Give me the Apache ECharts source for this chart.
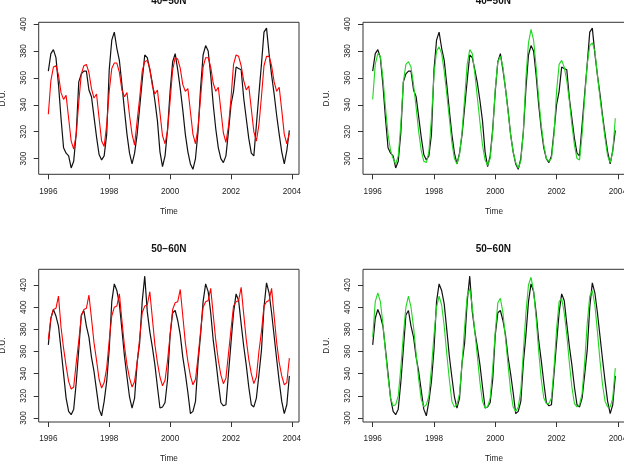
<!DOCTYPE html>
<html>
<head>
<meta charset="utf-8">
<script src="https://cdn.jsdelivr.net/npm/echarts@6/dist/echarts.min.js"></script>
<style>
html, body { margin: 0; padding: 0; background: #fff; }
#chart { width: 624px; height: 465px; }
</style>
</head>
<body>
<div id="chart"></div>
<script>
// monthly series, Jan 1996 .. Dec 2003
const startYear = 1996;
const xTicks = [1996, 1998, 2000, 2002, 2004];
const yTicksTop = [300, 320, 340, 360, 380, 400];
const yTicksBottom = [300, 320, 340, 360, 380, 400, 420];
const titles = ['40\u221250N', '40\u221250N', '50\u221260N', '50\u221260N'];

// 40-50N observed (black)
const obs40 = [
  365, 378, 381, 375, 355, 330, 308, 304, 302, 293, 298, 319,
  357, 363, 365, 365, 351, 346, 331, 316, 303, 299, 302, 318,
  366, 388, 394, 382, 373, 355, 336, 318, 304, 296, 304, 318,
  338, 358, 377, 375, 366, 356, 343, 328, 305, 294, 302, 322,
  350, 372, 378, 366, 352, 336, 318, 305, 296, 292, 300, 320,
  352, 377, 384, 380, 362, 340, 322, 308, 300, 297, 302, 320,
  340, 350, 368, 367, 366, 345, 330, 315, 304, 302, 325, 348,
  370, 394, 397, 378, 362, 348, 332, 318, 305, 296, 306, 321
];
// 40-50N model (red)
const modA40 = [
  333, 358, 368, 369, 362, 349, 344, 347, 330, 313, 307, 318,
  342, 363, 369, 370, 364, 352, 345, 348, 330, 313, 309, 325,
  350, 367, 371, 371, 364, 351, 346, 349, 332, 318, 310, 328,
  345, 365, 372, 373, 367, 354, 348, 351, 334, 317, 311, 321,
  343, 366, 375, 374, 367, 355, 350, 352, 335, 318, 311, 323,
  345, 368, 375, 375, 368, 356, 350, 353, 336, 319, 312, 324,
  345, 370, 377, 376, 369, 358, 351, 354, 337, 320, 313, 325,
  346, 369, 376, 376, 369, 357, 350, 353, 336, 318, 311, 319
];
// 40-50N model (green)
const modB40 = [
  344, 370, 378, 376, 360, 338, 318, 306, 300, 296, 302, 325,
  357, 370, 372, 368, 355, 338, 320, 306, 298, 297, 305, 330,
  362, 380, 383, 378, 365, 348, 330, 312, 300, 296, 303, 320,
  345, 370, 381, 378, 363, 345, 327, 310, 299, 295, 300, 320,
  352, 372, 376, 368, 352, 335, 318, 305, 297, 293, 298, 320,
  360, 386, 396, 388, 368, 345, 325, 310, 300, 298, 300, 318,
  350, 370, 373, 368, 358, 343, 325, 310, 300, 299, 318, 345,
  370, 384, 386, 380, 362, 345, 330, 315, 302, 297, 305, 330
];
// 50-60N observed (black)
const obs50 = [
  366, 390, 398, 392, 383, 362, 340, 318, 306, 303, 308, 332,
  362, 393, 397, 383, 373, 355, 342, 325, 308, 302, 315, 333,
  362, 405, 421, 415, 403, 380, 356, 337, 319, 309, 318, 350,
  368, 405, 428, 396, 378, 364, 348, 328, 309, 310, 314, 335,
  375, 395, 397, 388, 375, 355, 340, 323, 304, 306, 315, 350,
  375, 405, 421, 414, 395, 370, 352, 332, 314, 311, 312, 340,
  368, 395, 412, 406, 385, 365, 348, 328, 312, 310, 318, 339,
  361, 400, 422, 413, 395, 374, 353, 333, 315, 304, 312, 338
];
// 50-60N model (red)
const modA50 = [
  371, 390, 398, 399, 410, 382, 363, 347, 333, 326, 328, 350,
  370, 392, 398, 399, 411, 390, 368, 352, 335, 327, 332, 345,
  370, 392, 400, 401, 412, 388, 365, 348, 336, 328, 333, 350,
  372, 395, 401, 402, 414, 390, 366, 350, 337, 329, 334, 352,
  375, 398, 404, 405, 416, 392, 368, 351, 338, 330, 335, 355,
  378, 400, 405, 406, 417, 393, 370, 352, 339, 331, 336, 358,
  380, 401, 405, 406, 418, 394, 371, 353, 340, 331, 337, 360,
  378, 401, 405, 406, 417, 392, 368, 350, 338, 330, 332, 354
];
// 50-60N model (green)
const modB50 = [
  373, 405, 413, 405, 385, 360, 337, 318, 311, 312, 320, 345,
  375, 400, 410, 400, 382, 358, 335, 317, 310, 312, 320, 345,
  375, 400, 410, 402, 383, 358, 335, 315, 310, 312, 322, 350,
  382, 410, 417, 400, 378, 355, 332, 315, 309, 310, 318, 345,
  378, 404, 408, 395, 372, 348, 325, 310, 306, 310, 325, 360,
  395, 420, 427, 415, 390, 360, 335, 318, 313, 313, 318, 345,
  380, 405, 408, 395, 375, 350, 328, 313, 310, 312, 322, 350,
  385, 410, 415, 402, 378, 352, 330, 315, 310, 310, 318, 345
];

const toPoints = arr => arr.map((v, i) => [startYear + i / 12, v]);

const font = 'Liberation Sans, Arial, Helvetica, sans-serif';
const boxes = [
  { left: 38.7, top: 22.3, width: 260.3, height: 152, yMin: 288.3, yMax: 401.3, ticks: yTicksTop },
  { left: 363, top: 22.3, width: 262, height: 152, yMin: 288.3, yMax: 401.3, ticks: yTicksTop },
  { left: 38.7, top: 269.3, width: 260.3, height: 152.7, yMin: 296.4, yMax: 434.2, ticks: yTicksBottom },
  { left: 363, top: 269.3, width: 262, height: 152.7, yMin: 296.4, yMax: 434.2, ticks: yTicksBottom }
];
const seriesSets = [
  [obs40, modA40, '#ff0000'],
  [obs40, modB40, '#1fd81f'],
  [obs50, modA50, '#ff0000'],
  [obs50, modB50, '#1fd81f']
];

const grid = [], xAxis = [], yAxis = [], title = [], series = [];
boxes.forEach((b, k) => {
  grid.push({
    left: b.left, top: b.top, width: b.width, height: b.height,
    show: true, borderColor: '#333', borderWidth: 1, backgroundColor: 'transparent',
    containLabel: false, outerBoundsMode: 'none'
  });
  xAxis.push({
    type: 'value', gridIndex: k, min: 1995.6833, max: 2004.2333,
    name: 'Time', nameLocation: 'middle', nameGap: 33,
    nameTextStyle: { fontFamily: font, fontSize: 8.2, color: '#222' },
    axisLine: { show: false },
    axisTick: { show: true, length: 5, lineStyle: { color: '#333' }, customValues: xTicks },
    axisLabel: { fontFamily: font, fontSize: 8.2, color: '#222', margin: 13, customValues: xTicks, formatter: v => String(v) },
    splitLine: { show: false }
  });
  yAxis.push({
    type: 'value', gridIndex: k, min: b.yMin, max: b.yMax,
    name: 'D.U.', nameLocation: 'middle', nameGap: 32,
    nameTextStyle: { fontFamily: font, fontSize: 8.2, color: '#222' },
    axisLine: { show: false },
    axisTick: { show: true, length: 5, lineStyle: { color: '#333' }, customValues: b.ticks },
    axisLabel: { fontFamily: font, fontSize: 8.2, color: '#222', rotate: 90, margin: 11, customValues: b.ticks },
    splitLine: { show: false }
  });
  title.push({
    text: titles[k], left: b.left + b.width / 2 - (k % 2 ? 0.7 : 0), top: k < 2 ? -4 : 244,
    textAlign: 'center', padding: 0,
    textStyle: { fontFamily: font, fontSize: 10, fontWeight: 'bold', color: '#111' }
  });
  const [obs, mod, col] = seriesSets[k];
  series.push({
    type: 'line', xAxisIndex: k, yAxisIndex: k, data: toPoints(obs),
    showSymbol: false, silent: true, animation: false,
    lineStyle: { color: '#111', width: 1.2 }
  });
  series.push({
    type: 'line', xAxisIndex: k, yAxisIndex: k, data: toPoints(mod),
    showSymbol: false, silent: true, animation: false,
    lineStyle: { color: col, width: 1.1 }
  });
});

const chart = echarts.init(document.getElementById('chart'));
chart.setOption({ animation: false, grid, xAxis, yAxis, title, series });
</script>
</body>
</html>
